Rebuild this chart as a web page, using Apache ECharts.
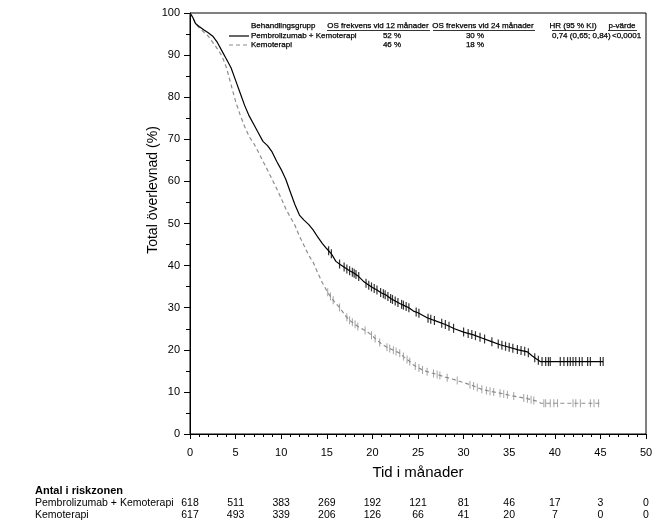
<!DOCTYPE html>
<html>
<head>
<meta charset="utf-8">
<script src="https://cdn.jsdelivr.net/npm/echarts@6/dist/echarts.min.js"></script>
<style>
html,body{margin:0;padding:0;background:#fff;}
#chart{width:670px;height:529px;}
</style>
</head>
<body>
<div id="chart"></div>
<script>
// ---- Data ----
const seriesNames = ['Pembrolizumab + Kemoterapi', 'Kemoterapi'];

const pembroT = [0,0.3,0.6,1,1.5,2,2.5,3,3.5,4,4.5,5,5.5,6,6.5,7,7.5,8,8.5,9,9.5,10,10.5,11,11.5,12,12.5,13,13.5,14,14.5,15,15.5,16,16.5,17,17.5,18,18.5,19,19.5,20,20.5,21,21.5,22,22.5,23,23.5,24,24.5,25,25.5,26,26.5,27,28,29,30,31,32,33,34,35,36,37,37.5,38,38.4,45.3];
const pembroS = [100,99,97.5,96.8,96,95.3,94.5,93,91,89,87,84,81,78,75.5,73.5,71.5,69.5,68.5,67,64.8,62.8,60.5,57.5,54.5,52,50.8,49.8,48.5,46.8,45.3,44,42.8,41,40.2,39.5,38.8,38.2,37.4,36.3,35.5,34.8,34.2,33.5,33,32.2,31.6,31,30.5,30,29.2,28.8,28.2,27.6,27.2,26.8,26,25,24.2,23.6,22.8,22,21.2,20.6,20,19.5,18.6,17.8,17.2,17.2];

const chemoT = [0,0.3,0.6,1,1.5,2,2.5,3,3.5,4,4.5,5,5.5,6,6.5,7,7.5,8,8.5,9,9.5,10,10.5,11,11.5,12,12.5,13,13.5,14,14.5,15,15.5,16,16.5,17,17.5,18,18.5,19,19.5,20,20.5,21,21.5,22,22.5,23,23.5,24,24.5,25,25.5,26,27,28,29,30,31,32,33,34,35,36,37,38,38.5,45];
const chemoS = [100,99,97.5,96.5,95.5,94.5,93,91.5,89.8,87,83,79,75.8,73,70.6,69,67,64.8,62.7,60.5,58.3,56,53.5,51.5,49.6,47,44.8,42.5,40.8,38.3,36,34,32.3,31,29.8,28.2,27,26.2,25.4,24.8,24.2,23.3,22.3,21.4,20.7,20.2,19.7,19.2,18.2,17.4,16.4,15.8,15.2,14.8,14.2,13.5,12.9,12.2,11.5,10.6,10.1,9.7,9.2,8.8,8.4,7.8,7.3,7.3];

const pembroCensor = [15.2,15.5,16.4,16.9,17.2,17.5,17.8,18.0,18.2,18.5,19.3,19.6,19.9,20.2,20.5,20.9,21.2,21.4,21.7,22.0,22.2,22.5,22.8,23.2,23.4,23.7,24.0,24.8,25.1,26.1,26.4,26.8,27.6,28.0,28.4,28.9,30.0,30.5,30.9,31.3,31.8,32.3,33.1,33.8,34.2,34.6,35.0,35.4,35.9,36.3,36.7,37.1,37.8,38.2,38.6,39.0,39.3,39.5,40.6,41.0,41.4,41.7,42.0,42.3,42.7,43.0,43.6,43.9,45.0,45.3];
const chemoCensor = [15.1,15.4,15.7,16.4,17.2,17.5,17.8,18.1,18.4,19.2,19.9,20.3,20.8,21.6,21.9,22.3,22.6,23.0,23.4,23.8,24.1,24.7,25.1,25.5,26.0,26.7,27.1,27.4,28.2,29.3,30.7,31.1,31.5,32.0,32.5,32.9,33.3,34.0,34.4,34.8,35.5,36.6,37.0,37.4,37.7,38.8,39.0,39.5,39.9,40.3,42.0,42.3,42.8,43.9,44.3,44.8];

const riskTimes = [0,5,10,15,20,25,30,35,40,45,50];
const riskPembro = [618,511,383,269,192,121,81,46,17,3,0];
const riskChemo = [617,493,339,206,126,66,41,20,7,0,0];

const xTicks = [0,5,10,15,20,25,30,35,40,45,50];
const yTicks = [0,10,20,30,40,50,60,70,80,90,100];

const tableHeader = ['Behandlingsgrupp','OS frekvens vid 12 månader','OS frekvens vid 24 månader','HR (95 % KI)','p-värde'];
const os12 = ['52 %','46 %'];
const os24 = ['30 %','18 %'];
const hrText = '0,74 (0,65; 0,84)';
const pText = '<0,0001';

// ---- helpers ----
function stepAt(ts, ss, t){ let v = ss[0]; for (let i=0;i<ts.length;i++){ if (ts[i] <= t) v = ss[i]; } return v; }
function lineAt(ts, ss, t){
  for (let i=1;i<ts.length;i++){ if (ts[i] >= t){ const f=(t-ts[i-1])/(ts[i]-ts[i-1]); return ss[i-1]+f*(ss[i]-ss[i-1]); } }
  return ss[ss.length-1];
}

const pembroLine = pembroT.map((t,i)=>[t, pembroS[i]]);
const chemoLine = chemoT.map((t,i)=>[t, chemoS[i]]);
const pembroCens = pembroCensor.map(t=>[t, lineAt(pembroT, pembroS, t)]);
const chemoCens = chemoCensor.map(t=>[t, lineAt(chemoT, chemoS, t)]);

const BLACK = '#000000';
const GRAY = '#8c8c8c';
const FONT = 'Liberation Sans, Arial, sans-serif';

const chart = echarts.init(document.getElementById('chart'), null, {renderer:'canvas'});

const option = {
  animation: false,
  backgroundColor: '#ffffff',
  grid: { left: 190, right: 24, top: 13, bottom: 95, show: true, borderColor: BLACK, borderWidth: 1, backgroundColor: 'transparent' },
  xAxis: {
    type: 'value', min: 0, max: 50, interval: 5,
    name: 'Tid i månader', nameLocation: 'middle', nameGap: 31,
    nameTextStyle: { fontFamily: FONT, fontSize: 15, color: BLACK, verticalAlign: 'top' },
    axisLine: { show: true, onZero: false, lineStyle: { color: BLACK, width: 1 } },
    axisTick: { show: true, inside: false, length: 5, lineStyle: { color: BLACK } },
    minorTick: { show: true, splitNumber: 5, length: 3, lineStyle: { color: BLACK } },
    axisLabel: { fontFamily: FONT, fontSize: 11, color: BLACK, margin: 13,
      formatter: v => xTicks.includes(v) ? String(v) : '' },
    splitLine: { show: false }
  },
  yAxis: {
    type: 'value', min: 0, max: 100, interval: 10,
    axisLine: { show: true, onZero: false, lineStyle: { color: BLACK, width: 1 } },
    axisTick: { show: true, inside: false, length: 6, lineStyle: { color: BLACK } },
    minorTick: { show: true, splitNumber: 2, length: 4, lineStyle: { color: BLACK } },
    axisLabel: { fontFamily: FONT, fontSize: 11, color: BLACK, margin: 10,
      formatter: v => yTicks.includes(v) ? String(v) : '' },
    splitLine: { show: false }
  },
  series: [
    { name: seriesNames[1], type: 'line', data: chemoLine, showSymbol: false, symbol: 'none',
      lineStyle: { color: GRAY, width: 1.2, type: [4, 3] }, z: 2 },
    { name: seriesNames[0], type: 'line', data: pembroLine, showSymbol: false, symbol: 'none',
      lineStyle: { color: BLACK, width: 1.2 }, z: 3 },
    { name: seriesNames[1] + ' censur', type: 'scatter', data: chemoCens, symbol: 'rect', symbolSize: [1, 8],
      itemStyle: { color: GRAY }, z: 2 },
    { name: seriesNames[0] + ' censur', type: 'scatter', data: pembroCens, symbol: 'rect', symbolSize: [1.2, 9],
      itemStyle: { color: BLACK }, z: 3 }
  ]
};
chart.setOption(option);

// ---- overlays: axis title, in-plot table, risk table ----
const g = [];
const tf = (x, y, text, opts) => Object.assign({ type: 'text', x: x, y: y,
  style: Object.assign({ text: text, fill: BLACK, stroke: BLACK, lineWidth: 0.25, font: '8px ' + FONT, align: 'left', verticalAlign: 'middle' }, opts || {}) });
const rt = (x, y, text, opts) => Object.assign({ type: 'text', x: x, y: y,
  style: Object.assign({ text: text, fill: BLACK, font: '10.5px ' + FONT, align: 'left', verticalAlign: 'middle' }, opts || {}) });

// y-axis title
g.push({ type: 'text', x: 153, y: 190, rotation: Math.PI/2,
  style: { text: 'Total överlevnad (%)', fill: BLACK, font: '14px ' + FONT, align: 'center', verticalAlign: 'middle' } });

// in-plot table
const hdrY = 26, r1Y = 36, r2Y = 45;
g.push(tf(251, hdrY, tableHeader[0]));
g.push(tf(378, hdrY, tableHeader[1], { align: 'center' }));
g.push(tf(483, hdrY, tableHeader[2], { align: 'center' }));
g.push(tf(573, hdrY, tableHeader[3], { align: 'center' }));
g.push(tf(622, hdrY, tableHeader[4], { align: 'center' }));
[[327,430],[433,535],[552,595],[608,637]].forEach(([a,b]) => g.push({ type:'line', shape:{x1:a,y1:30.5,x2:b,y2:30.5}, style:{stroke:BLACK, lineWidth:0.8} }));
g.push({ type:'line', shape:{x1:229,y1:r1Y,x2:249,y2:r1Y}, style:{stroke:BLACK, lineWidth:1.2} });
g.push({ type:'line', shape:{x1:229,y1:r2Y,x2:249,y2:r2Y}, style:{stroke:GRAY, lineWidth:1.2, lineDash:[4,3]} });
g.push(tf(251, r1Y, seriesNames[0]));
g.push(tf(251, r2Y, seriesNames[1]));
g.push(tf(392, r1Y, os12[0], { align: 'center' }));
g.push(tf(392, r2Y, os12[1], { align: 'center' }));
g.push(tf(475, r1Y, os24[0], { align: 'center' }));
g.push(tf(475, r2Y, os24[1], { align: 'center' }));
g.push(tf(552, r1Y, hrText));
g.push(tf(612, r1Y, pText));

// risk table
g.push(rt(35, 491, 'Antal i riskzonen', { font: 'bold 11px ' + FONT }));
g.push(rt(35, 503, seriesNames[0]));
g.push(rt(35, 515, seriesNames[1]));
riskTimes.forEach((t, i) => {
  const px = chart.convertToPixel({ xAxisIndex: 0 }, t);
  g.push(rt(px, 503, String(riskPembro[i]), { align: 'center' }));
  g.push(rt(px, 515, String(riskChemo[i]), { align: 'center' }));
});

chart.setOption({ graphic: g });
</script>
</body>
</html>
